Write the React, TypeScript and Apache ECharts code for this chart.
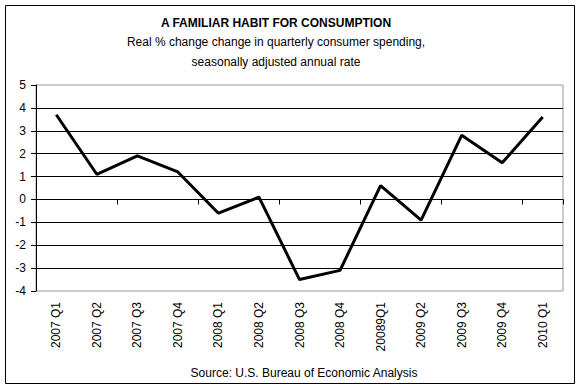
import React, { useEffect, useRef } from "react";
import * as echarts from "echarts";

const categories = [
  "2007 Q1", "2007 Q2", "2007 Q3", "2007 Q4",
  "2008 Q1", "2008 Q2", "2008 Q3", "2008 Q4",
  "20089Q1", "2009 Q2", "2009 Q3", "2009 Q4", "2010 Q1",
];
const spending = [3.7, 1.1, 1.9, 1.2, -0.6, 0.1, -3.5, -3.1, 0.6, -0.9, 2.8, 1.6, 3.6];
const titleText = "A FAMILIAR HABIT FOR CONSUMPTION";
const subtitleText = "Real % change change in quarterly consumer spending,\nseasonally adjusted annual rate";
const sourceText = "Source: U.S. Bureau of Economic Analysis";

const FONT = "'Liberation Sans', Arial, sans-serif";

export default function App() {
  const ref = useRef<HTMLDivElement>(null);
  useEffect(() => {
    if (!ref.current) return;
    const chart = echarts.init(ref.current, undefined, { renderer: "svg" });
    chart.setOption({
      animation: false,
      backgroundColor: "#ffffff",
      textStyle: { fontFamily: FONT },
      title: [
        {
          text: titleText,
          left: 271,
          top: 12,
          textAlign: "center",
          textStyle: { fontFamily: FONT, fontSize: 12, fontWeight: "bold", color: "#000" },
        },
        {
          text: subtitleText,
          left: 271,
          top: 27,
          textAlign: "center",
          textStyle: { fontFamily: FONT, fontSize: 12, fontWeight: "normal", color: "#000", lineHeight: 20 },
        },
        {
          text: sourceText,
          left: 299,
          top: 362,
          textAlign: "center",
          textStyle: { fontFamily: FONT, fontSize: 12, fontWeight: "normal", color: "#000" },
        },
      ],
      graphic: [
        {
          type: "rect",
          shape: { x: 5.5, y: 5.5, width: 569, height: 378 },
          style: { fill: "none", stroke: "#000", lineWidth: 1 },
          z: 100,
        },
      ],
      grid: {
        left: 36,
        right: 17,
        top: 85,
        bottom: 99,
        show: true,
        borderColor: "#9a9a9a",
        borderWidth: 1,
        backgroundColor: "#ffffff",
      },
      xAxis: [
        {
          type: "category",
          data: categories,
          boundaryGap: true,
          axisLine: { onZero: true, lineStyle: { color: "#000", width: 1 } },
          axisTick: { show: true, length: 5, lineStyle: { color: "#000" } },
          axisLabel: { show: false },
          splitLine: { show: false },
        },
        {
          type: "category",
          data: categories,
          position: "bottom",
          boundaryGap: true,
          axisLine: { show: false, onZero: false },
          axisTick: { show: false },
          axisLabel: {
            show: true,
            rotate: 90,
            margin: 11,
            fontFamily: FONT,
            fontSize: 12,
            color: "#000",
            interval: 0,
          },
          splitLine: { show: false },
        },
      ],
      yAxis: {
        type: "value",
        min: -4,
        max: 5,
        interval: 1,
        axisLine: { show: true, lineStyle: { color: "#000", width: 1 } },
        axisTick: { show: true, length: 5, lineStyle: { color: "#000" } },
        axisLabel: { fontFamily: FONT, fontSize: 12, color: "#000", margin: 10 },
        splitLine: {
          show: true,
          showMinLine: false,
          showMaxLine: false,
          lineStyle: { color: "#000", width: 1 },
        },
      },
      series: [
        {
          type: "line",
          xAxisIndex: 0,
          data: spending,
          showSymbol: false,
          symbol: "none",
          lineStyle: { color: "#000", width: 3 },
          z: 10,
        },
      ],
    });
    return () => chart.dispose();
  }, []);
  return (
    <div
      ref={ref}
      style={{ position: "fixed", left: 0, top: 0, width: 580, height: 390, background: "#fff" }}
    />
  );
}
